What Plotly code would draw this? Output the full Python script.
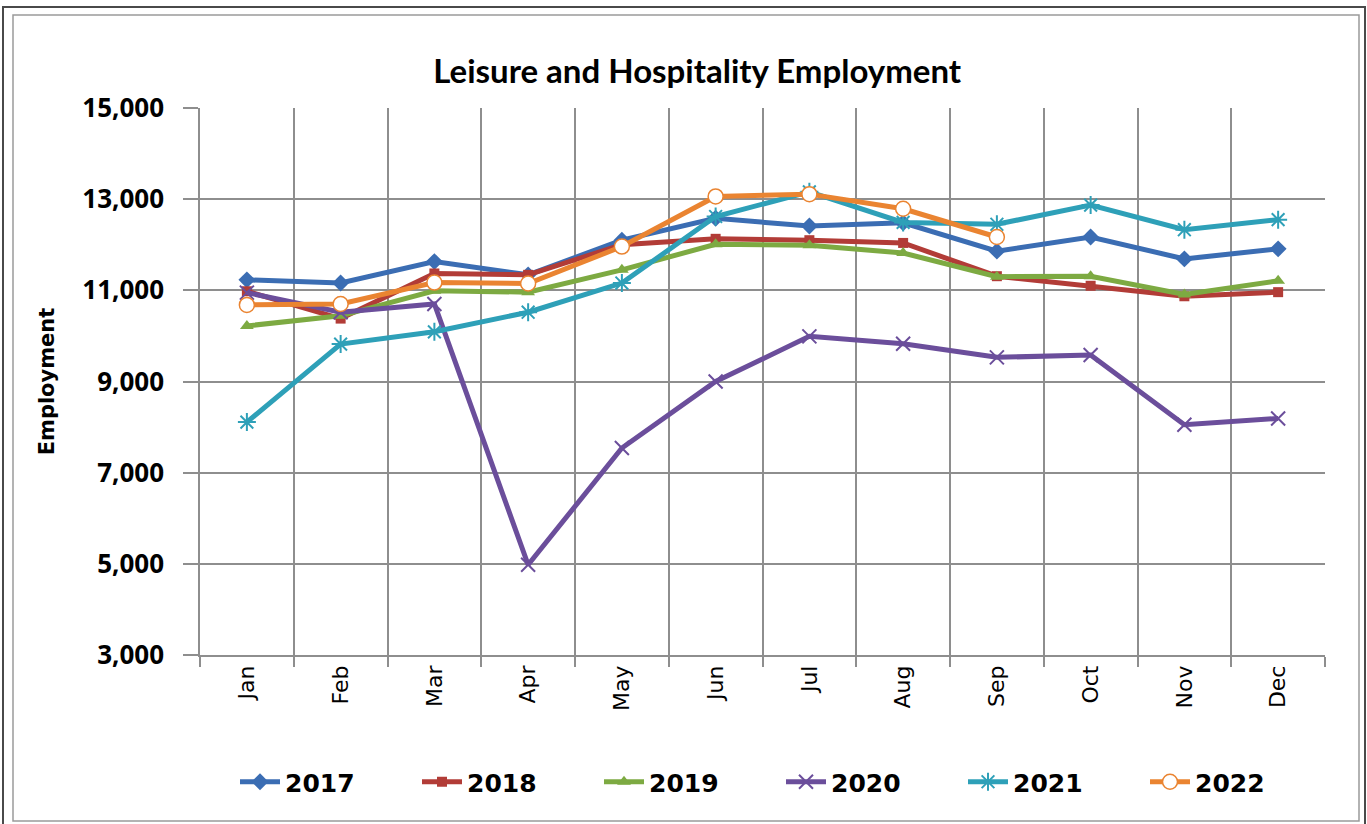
import plotly.graph_objects as go

months = ["Jan", "Feb", "Mar", "Apr", "May", "Jun", "Jul", "Aug", "Sep", "Oct", "Nov", "Dec"]

emp_2017 = [11230, 11160, 11630, 11340, 12100, 12580, 12410, 12480, 11860, 12170, 11690, 11910]
emp_2018 = [10980, 10380, 11370, 11340, 12000, 12130, 12100, 12040, 11310, 11100, 10870, 10960]
emp_2019 = [10220, 10440, 10990, 10960, 11450, 12010, 11990, 11820, 11300, 11310, 10910, 11210]
emp_2020 = [10950, 10520, 10700, 4980, 7540, 9000, 9990, 9830, 9530, 9580, 8050, 8190]
emp_2021 = [8110, 9820, 10090, 10520, 11160, 12620, 13160, 12490, 12450, 12870, 12330, 12550]
emp_2022 = [10680, 10700, 11170, 11150, 11960, 13060, 13110, 12790, 12170]

series = [
    ("2017", emp_2017, "#3B6DB3", dict(symbol="diamond", size=13)),
    ("2018", emp_2018, "#B23C37", dict(symbol="square", size=10)),
    ("2019", emp_2019, "#7DAA42", dict(symbol="triangle-up", size=12)),
    ("2020", emp_2020, "#6B4E9B", dict(symbol="x-thin", size=14, line=dict(width=2, color="#6B4E9B"))),
    ("2021", emp_2021, "#2EA0B8", dict(symbol="asterisk", size=15, line=dict(width=2, color="#2EA0B8"))),
    ("2022", emp_2022, "#EA8431", dict(symbol="circle", size=15, color="white", line=dict(width=1.5, color="#EA8431"))),
]

fig = go.Figure()
for name, vals, color, mk in series:
    marker = dict(color=color)
    marker.update(mk)
    fig.add_trace(go.Scatter(
        x=months[:len(vals)], y=vals, name=name, mode="lines+markers",
        line=dict(color=color, width=5), marker=marker,
    ))

grid = "#8E8E8E"
bold_font = "DejaVu Sans"

fig.update_layout(
    width=1367, height=824,
    paper_bgcolor="white", plot_bgcolor="white",
    margin=dict(l=200, r=42, t=108, b=169),
    title=dict(
        text="Leisure and Hospitality Employment",
        x=0.51, xanchor="center", y=1 - 71 / 824, yanchor="middle",
        font=dict(family="Lato", size=33, color="black", weight="bold"),
    ),
    xaxis=dict(
        type="category", categoryorder="array", categoryarray=months,
        tickson="boundaries", showgrid=True, gridcolor=grid, gridwidth=1.5,
        showline=True, linecolor=grid, linewidth=1.5,
        ticks="outside", ticklen=10, tickcolor=grid, tickwidth=1.5,
        tickangle=-90, tickfont=dict(family="DejaVu Sans", size=22, color="black"),
        range=[-0.5, 11.5],
    ),
    yaxis=dict(
        range=[3000, 15000], tickvals=[3000, 5000, 7000, 9000, 11000, 13000, 15000],
        tickformat=",d", showgrid=True, gridcolor=grid, gridwidth=1.5,
        showline=True, linecolor=grid, linewidth=1.5,
        ticks="outside", ticklen=15, tickcolor=grid, tickwidth=1.5,
        ticklabelstandoff=14,
        tickfont=dict(family="Open Sans", size=26, color="black", weight="bold"),
        title=dict(text="Employment", standoff=22,
                   font=dict(family=bold_font, size=21, color="black", weight="bold")),
        zeroline=False,
    ),
    legend=dict(
        orientation="h", x=(235 - 200) / 1125, xanchor="left",
        y=-(782 - 655) / 547, yanchor="middle",
        font=dict(family=bold_font, size=25, color="black", weight="bold"),
        entrywidth=127, entrywidthmode="pixels", itemwidth=40,
        bgcolor="rgba(0,0,0,0)",
    ),
    showlegend=True,
)

# chart frame: inner light border and darker outer edge
def px_to_paper_x(px):
    return (px - 200) / 1125

def px_to_paper_y(py):
    return (655 - py) / 547

fig.add_shape(
    type="rect", xref="paper", yref="paper",
    x0=px_to_paper_x(13), x1=px_to_paper_x(1359),
    y0=px_to_paper_y(821), y1=px_to_paper_y(15),
    line=dict(color="#9A9A9A", width=1.5), fillcolor="rgba(0,0,0,0)", layer="below",
)
fig.add_shape(
    type="path", xref="paper", yref="paper",
    path=(f"M {px_to_paper_x(3)} {px_to_paper_y(824)} L {px_to_paper_x(3)} {px_to_paper_y(7)} "
          f"L {px_to_paper_x(1365)} {px_to_paper_y(7)} L {px_to_paper_x(1365)} {px_to_paper_y(824)}"),
    line=dict(color="#4A4A4A", width=2), layer="below",
)

fig.write_html("out.html")
